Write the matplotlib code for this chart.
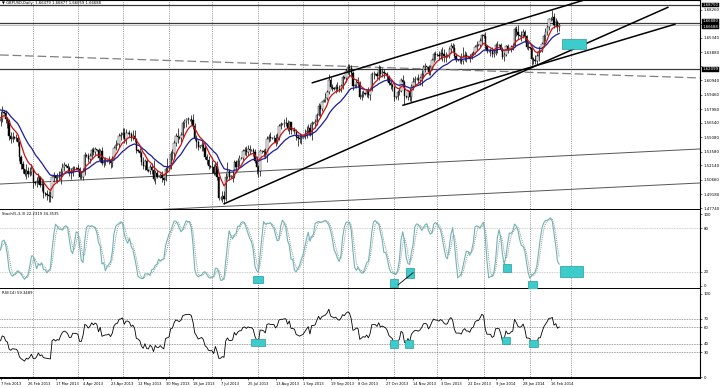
import numpy as np
import pandas as pd
import matplotlib
matplotlib.use("Agg")
import matplotlib.pyplot as plt
from matplotlib.patches import Rectangle
from matplotlib.transforms import blended_transform_factory as btf

# ---------------- data (prices in pips, x = bar index, Sundays included) ----------------
pre_close = [16080,16110,16090,16070,16110,16100, 16060,16050,16040,16030,16000,15960,
             15870,15860,15840,15810,15790,15760, 15700,15700,15740,15800,15860,15860,
             15850,15700,15650,15620,15720,15640]
first_open = 15670
close_pips = [15700,15770,
 15760,15690,15670,15520,15490,15510, 15500,15500,15460,15300,15230,15180,
 15130,15160,15130,15150,15180,15040, 15030,15050,15090,15010,15020,14930,
 14920,14910,14900,14890,15090,15110, 15080,15100,15090,15150,15200,15220,
 15210,15190,15140,15140,15190,15190, 15190,15180,15100,15100,15160,15320,
 15310,15280,15310,15370,15350,15380, 15370,15290,15360,15240,15250,15260,
 15260,15270,15240,15280,15390,15430, 15440,15520,15530,15550,15490,15550,
 15550,15540,15500,15520,15490,15370, 15360,15340,15250,15210,15260,15170,
 15160,15200,15170,15070,15140,15100, 15100,15120,15080,15060,15180,15190,
 15200,15330,15340,15450,15520,15510, 15500,15530,15650,15670,15690,15690,
 15690,15680,15620,15500,15460,15410, 15420,15430,15400,15300,15270,15210,
 15200,15200,15140,15210,15100,14880, 14880,14900,14870,15100,15160,15100,
 15100,15110,15250,15200,15260,15290, 15290,15360,15370,15350,15380,15370,
 15370,15350,15260,15200,15160,15360, 15360,15350,15320,15490,15510,15500,
 15500,15500,15460,15500,15620,15640, 15640,15650,15650,15600,15660,15580,
 15580,15570,15510,15500,15490,15500, 15510,15540,15570,15600,15530,15650,
 15650,15660,15740,15830,15800,15870, 15890,15910,15970,16100,16030,16020,
 16010,16030,16010,16000,16040,16130, 16120,16190,16230,16220,16170,16040,
 16050,16080,16070,15920,15940,15960, 15950,15980,15940,16000,16160,16160,
 16160,16140,16210,16160,16180,16170, 16160,16130,16070,16050,16030,15920,
 15920,15970,15990,16100,16080,15930, 15920,15980,15920,16040,16080,16110,
 16110,16100,16120,16160,16230,16240, 16230,16180,16230,16310,16370,16360,
 16360,16350,16380,16370,16350,16340, 16350,16420,16450,16430,16350,16310,
 16310,16310,16300,16340,16360,16340, 16340,16330,16370,16380,16440,16460,
 16460,16500,16560,16550,16450,16400, 16400,16400,16370,16380,16460,16460,
 16460,16420,16340,16360,16450,16420, 16420,16440,16450,16630,16600,16560,
 16550,16560,16600,16550,16440,16440, 16430,16320,16310,16300,16350,16400,
 16400,16470,16550,16600,16650,16730, 16730,16750,16670,16700,16648,16669]
high_pips = [15780,15830,
 15785,15790,15720,15700,15560,15560, 15515,15540,15530,15470,15320,15260,
 15160,15230,15200,15200,15230,15190, 15050,15090,15140,15110,15070,15070,
 14940,14960,14950,14950,15110,15150, 15120,15140,15160,15190,15240,15250,
 15230,15240,15210,15190,15210,15210, 15200,15230,15200,15160,15190,15350,
 15330,15340,15340,15400,15410,15410, 15385,15390,15380,15410,15290,15300,
 15270,15310,15290,15310,15420,15480, 15450,15550,15560,15605,15600,15590,
 15560,15580,15560,15580,15580,15500, 15380,15390,15360,15300,15280,15280,
 15180,15230,15240,15270,15170,15170, 15110,15140,15160,15100,15200,15290,
 15215,15360,15380,15480,15550,15600, 15515,15560,15670,15700,15710,15720,
 15700,15740,15750,15650,15530,15480, 15430,15480,15460,15430,15330,15310,
 15215,15270,15230,15250,15260,15110, 14900,14950,14950,15140,15250,15180,
 15115,15160,15270,15270,15290,15320, 15300,15380,15410,15420,15430,15430,
 15380,15400,15380,15310,15220,15380, 15370,15380,15390,15520,15540,15560,
 15510,15530,15540,15550,15640,15660, 15655,15700,15720,15680,15670,15660,
 15590,15610,15590,15540,15550,15540, 15520,15590,15620,15640,15640,15670,
 15665,15700,15760,15860,15850,15880, 15900,15960,16000,16160,16130,16060,
 16025,16060,16080,16050,16060,16150, 16135,16210,16260,16260,16250,16190,
 16060,16110,16130,16090,15990,16000, 15965,16000,16030,16020,16180,16190,
 16170,16180,16250,16240,16220,16210, 16175,16180,16150,16100,16070,16040,
 15930,16000,16020,16120,16150,16100, 15935,16000,16020,16060,16130,16140,
 16125,16160,16140,16200,16250,16270, 16245,16250,16250,16330,16390,16400,
 16375,16400,16420,16440,16420,16390, 16365,16440,16480,16480,16470,16380,
 16320,16350,16380,16440,16400,16390, 16350,16370,16390,16400,16460,16500,
 16475,16530,16570,16570,16600,16460, 16410,16430,16440,16420,16480,16500,
 16470,16480,16440,16390,16460,16470, 16430,16460,16480,16650,16660,16668,
 16560,16610,16630,16620,16560,16490, 16440,16450,16340,16360,16380,16450,
 16410,16490,16570,16640,16670,16740, 16750,16823,16790,16740,16720,16688]
low_pips = [15620,15660,
 15750,15650,15600,15480,15450,15460, 15490,15470,15420,15260,15180,15140,
 15110,15070,15090,15110,15120,14980, 15010,14990,15020,14990,14950,14880,
 14900,14860,14831,14840,14880,15040, 15050,15030,15060,15020,15130,15160,
 15200,15140,15110,15070,15110,15170, 15180,15160,15070,15070,15060,15120,
 15300,15250,15240,15280,15320,15320, 15360,15270,15250,15220,15200,15220,
 15250,15230,15190,15200,15270,15370, 15425,15410,15480,15500,15450,15440,
 15540,15510,15470,15480,15460,15340, 15350,15300,15220,15180,15170,15160,
 15150,15130,15130,15050,15020,15080, 15090,15080,15040,15008,15050,15150,
 15185,15180,15270,15300,15420,15450, 15490,15460,15510,15600,15610,15640,
 15675,15640,15590,15480,15390,15370, 15400,15360,15360,15280,15230,15180,
 15190,15140,15120,15120,15060,14860, 14860,14840,14814,14850,15070,15060,
 15085,15040,15080,15150,15190,15210, 15280,15270,15320,15310,15320,15330,
 15360,15310,15240,15130,15100,15110, 15345,15300,15290,15250,15460,15470,
 15490,15460,15420,15440,15480,15590, 15630,15610,15620,15570,15540,15540,
 15570,15540,15480,15420,15450,15440, 15495,15490,15500,15550,15520,15480,
 15640,15600,15630,15730,15720,15780, 15870,15870,15890,15950,16010,15980,
 16000,15960,15980,15970,15970,16010, 16110,16080,16160,16140,16130,16000,
 16030,16020,16030,15900,15890,15920, 15940,15920,15910,15890,15990,16110,
 16150,16110,16100,16140,16130,16120, 16150,16090,16050,16010,15990,15880,
 15905,15890,15940,15970,16030,15850, 15910,15890,15880,15870,16000,16040,
 16100,16070,16050,16040,16120,16180, 16220,16150,16150,16200,16290,16310,
 16350,16310,16320,16300,16290,16290, 16340,16330,16380,16390,16330,16290,
 16300,16270,16260,16260,16300,16290, 16330,16290,16320,16360,16370,16410,
 16450,16440,16470,16530,16420,16380, 16390,16350,16340,16340,16360,16380,
 16450,16400,16320,16300,16350,16380, 16410,16390,16410,16440,16550,16520,
 16540,16500,16530,16490,16420,16410, 16420,16250,16260,16260,16260,16300,
 16390,16390,16440,16500,16560,16620, 16710,16720,16640,16650,16600,16606]

start_date = "2013-02-07"
price_ticks = [1.47740,1.49180,1.50660,1.52140,1.53580,1.55080,1.56540,1.57980,
               1.59460,1.60940,1.62420,1.63880,1.65340,1.66800,1.68260]
price_hidden = [1.62420, 1.66800]          # labels covered by the line-price boxes
stoch_ticks = [100, 80, 20, 0]
rsi_ticks = [100, 70, 60, 40, 30, 0]
stoch_levels = [80, 20]
rsi_levels = [70, 60, 40, 30]
hlines_dark = [1.68750, 1.66880, 1.62099]
bid_price = 1.66688
axis_boxes = [1.68750, 1.66880, 1.66688, 1.62099]
box_shift_pt = [0.0, 1.4, -1.4, 0.0]
title_txt = "\u25bc GBPUSD,Daily  1.66479 1.66877 1.66059 1.66688"
stoch_txt = "Stoch(5,3,3) 22.2319 34.3535"
rsi_txt = "RSI(14) 59.3489"

# chart objects (bar index, value)
trend_black = [((181.0, 1.6068), (349.0, 1.6978)),
               ((129.7, 1.4815), (388.6, 1.6854)),
               ((233.7, 1.5835), (392.7, 1.6678))]
trend_gray = [((-0.3, 1.5022), (406.9, 1.5385)),
              ((87.0, 1.4753), (406.9, 1.5033))]
trend_dashed = ((-0.3, 1.6358), (406.9, 1.6120))
rects_price = [(326.6, 340.6, 1.6420, 1.6523)]
rects_stoch = [(146.7, 152.5, 3.8, 14.3), (226.6, 231.4, -1.8, 9.7), (235.7, 240.5, 11.5, 24.6),
               (292.3, 297.0, 19.4, 30.6), (306.9, 312.1, -4.2, 6.9), (325.5, 338.9, 12.5, 27.8)]
stoch_link = ((231.2, 1.4), (240.0, 18.5))
rects_rsi = [(145.5, 153.9, 37.3, 45.8), (226.6, 231.2, 34.9, 44.6), (235.3, 240.0, 34.9, 44.6),
             (291.7, 296.4, 39.8, 48.2), (307.5, 312.7, 36.1, 44.6)]

# ---------------- derived series ----------------
N = min(len(close_pips), len(high_pips), len(low_pips))
c = np.array(close_pips[:N]) / 1e4
o = np.r_[first_open / 1e4, c[:-1]]
h = np.maximum(np.array(high_pips[:N]) / 1e4, np.maximum(o, c))
l = np.minimum(np.array(low_pips[:N]) / 1e4, np.minimum(o, c))
x = np.arange(N)

allc = pd.Series(np.r_[np.array(pre_close) / 1e4, c])
npre = len(pre_close)
ma_fast = allc.ewm(span=8, adjust=False).mean().values[npre:]
ma_slow = allc.ewm(span=21, adjust=False).mean().values[npre:]
d = allc.diff()
up = d.clip(lower=0)
dn = -d.clip(upper=0)
rs = up.ewm(alpha=1 / 14, adjust=False).mean() / dn.ewm(alpha=1 / 14, adjust=False).mean()
rsi = (100 - 100 / (1 + rs)).values[npre:]

hs, ls_, cs = pd.Series(h), pd.Series(l), pd.Series(c)
hh = hs.rolling(5, min_periods=1).max()
ll = ls_.rolling(5, min_periods=1).min()
kk = 100 * (cs - ll).rolling(3, min_periods=1).sum() / (hh - ll).rolling(3, min_periods=1).sum()
dd = kk.rolling(3, min_periods=1).mean()

dates = pd.date_range(start_date, periods=500, freq="D")
dates = dates[dates.dayofweek != 5]
label_idx = list(range(0, N, 16))
label_txt = [f"{dates[i].day} {dates[i].strftime('%b')} {dates[i].year}" for i in label_idx]
month_idx = [i for i in range(1, 336) if dates[i].month != dates[i - 1].month]

# ---------------- figure ----------------
W, H = 720, 388
fig = plt.figure(figsize=(W / 100, H / 100), dpi=100)
fig.patch.set_facecolor("white")
R = 700 / W
ax1 = fig.add_axes([0, 1 - 210 / H, R, 210 / H])
ax2 = fig.add_axes([0, 1 - 289 / H, R, 79 / H])
ax3 = fig.add_axes([0, 1 - 378 / H, R, 89 / H])

XL = (-0.3, 406.9)
FS = 2.8
grid_kw = dict(color="#555555", lw=0.5, ls=(0, (1, 1.6)), zorder=0)

for ax in (ax1, ax2, ax3):
    ax.set_xlim(*XL)
    for i in month_idx:
        ax.axvline(i, **grid_kw)
    ax.yaxis.tick_right()
    ax.tick_params(axis="y", which="both", right=True, left=False, length=1.5, width=0.4,
                   labelsize=FS, pad=1, colors="black")
    ax.spines["left"].set_visible(False)
    ax.spines["right"].set_linewidth(0.8)
    ax.spines["top"].set_visible(False)
    ax.spines["bottom"].set_linewidth(1.4)

# ---- price panel ----
ax1.set_ylim(1.47533, 1.69268)
ax1.spines["top"].set_visible(True)
ax1.spines["top"].set_linewidth(0.8)
ax1.set_yticks(price_ticks)
ax1.set_yticklabels(["" if t in price_hidden else f"{t:.5f}" for t in price_ticks])
ax1.set_xticks([])

for p in hlines_dark:
    ax1.axhline(p, color="#3a3a3a", lw=0.9, zorder=1)
ax1.axhline(bid_price, color="#b0b0b0", lw=0.6, zorder=1)
(x0, y0), (x1, y1) = trend_dashed
ax1.plot([x0, x1], [y0, y1], color="#808080", lw=0.9, ls=(0, (7, 3)), zorder=1)
for (xa, ya), (xb, yb) in trend_gray:
    ax1.plot([xa, xb], [ya, yb], color="#555555", lw=0.7, zorder=1)

isup = c >= o
ax1.vlines(x, l, h, color="black", lw=0.5, zorder=2)
ax1.bar(x, np.maximum(np.abs(c - o), 0.00025), bottom=np.minimum(o, c), width=0.75,
        color=np.where(isup, "white", "black"), edgecolor="black", linewidth=0.3, zorder=3)
ax1.plot(x, ma_slow, color="#1c1ca0", lw=0.9, zorder=4)
ax1.plot(x, ma_fast, color="#cc1010", lw=0.9, zorder=4)
for (xa, ya), (xb, yb) in trend_black:
    ax1.plot([xa, xb], [ya, yb], color="black", lw=1.1, zorder=5, solid_capstyle="butt")
for xa, xb, ya, yb in rects_price:
    ax1.add_patch(Rectangle((xa, ya), xb - xa, yb - ya, fc="#3ccccc", ec="#2a9a9a", lw=0.5, zorder=6))

tr1 = btf(ax1.transAxes, ax1.transData)
for p, dy in zip(axis_boxes, box_shift_pt):
    ax1.annotate(f"{p:.5f}", xy=(1.004, p), xycoords=tr1, xytext=(0, dy),
                 textcoords="offset points", fontsize=FS, color="white", va="center",
                 ha="left", annotation_clip=False, zorder=10,
                 bbox=dict(boxstyle="square,pad=0.1", fc="black", ec="black", lw=0.3))
ax1.text(0.003, 0.995, title_txt, transform=ax1.transAxes, fontsize=2.7, va="top", ha="left",
         color="black")

# ---- stochastic panel ----
ax2.set_ylim(-4.2, 105.6)
ax2.set_yticks(stoch_ticks)
ax2.set_yticklabels([str(t) for t in stoch_ticks])
ax2.set_xticks([])
for lv in stoch_levels:
    ax2.axhline(lv, color="#a0a0a0", lw=0.5, ls=(0, (1, 1.4)), zorder=1)
ax2.plot(x, kk.values, color="#72b2b2", lw=0.8, zorder=3)
ax2.plot(x, dd.values, color="#8a9a9a", lw=0.7, ls=(0, (1, 1)), zorder=2)
for xa, xb, ya, yb in rects_stoch:
    ax2.add_patch(Rectangle((xa, ya), xb - xa, yb - ya, fc="#3ccccc", ec="#2a9a9a", lw=0.5, zorder=6))
(xa, ya), (xb, yb) = stoch_link
ax2.plot([xa, xb], [ya, yb], color="black", lw=0.6, zorder=7)
ax2.text(0.003, 0.97, stoch_txt, transform=ax2.transAxes, fontsize=2.7, va="top", ha="left")

# ---- RSI panel ----
ax3.set_ylim(-1.2, 106.0)
ax3.set_yticks(rsi_ticks)
ax3.set_yticklabels([str(t) for t in rsi_ticks])
for lv in rsi_levels:
    ax3.axhline(lv, color="#444444", lw=0.5, ls=(0, (1, 1.4)), zorder=1)
ax3.plot(x, rsi, color="black", lw=0.6, zorder=3)
for xa, xb, ya, yb in rects_rsi:
    ax3.add_patch(Rectangle((xa, ya), xb - xa, yb - ya, fc="#3ccccc", ec="#2a9a9a", lw=0.5, zorder=6))
ax3.text(0.003, 0.975, rsi_txt, transform=ax3.transAxes, fontsize=2.7, va="top", ha="left")
ax3.set_xticks(label_idx)
ax3.set_xticklabels(label_txt, fontsize=2.6, ha="left")
ax3.tick_params(axis="x", length=1.5, width=0.4, pad=1.2)

fig.savefig("out.png", dpi=100, facecolor="white")
